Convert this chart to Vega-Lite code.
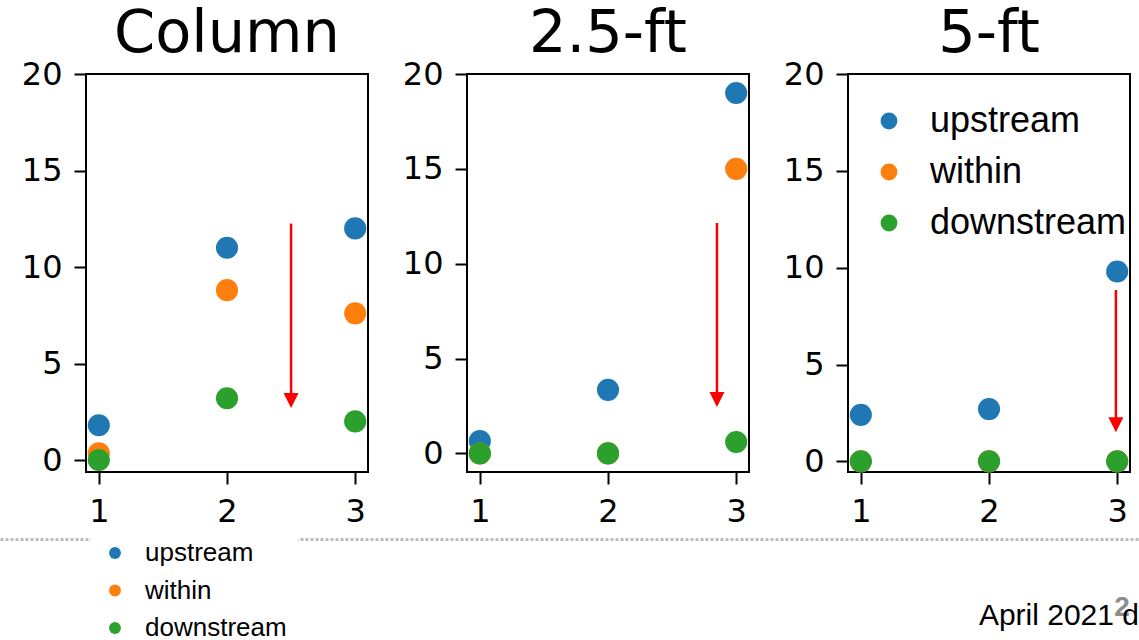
{
  "$schema": "https://vega.github.io/schema/vega-lite/v6.json",
  "autosize": {"type": "none"},
  "padding": {"left": 86, "top": 74, "right": 1053, "bottom": 566},
  "background": "white",
  "datasets": {
    "points": [
      {"panel": "Column", "series": "upstream", "x": 1, "y": 1.8},
      {"panel": "Column", "series": "upstream", "x": 2, "y": 11.0},
      {"panel": "Column", "series": "upstream", "x": 3, "y": 12.0},
      {"panel": "Column", "series": "within", "x": 1, "y": 0.35},
      {"panel": "Column", "series": "within", "x": 2, "y": 8.8},
      {"panel": "Column", "series": "within", "x": 3, "y": 7.6},
      {"panel": "Column", "series": "downstream", "x": 1, "y": 0.0},
      {"panel": "Column", "series": "downstream", "x": 2, "y": 3.2},
      {"panel": "Column", "series": "downstream", "x": 3, "y": 2.0},
      {"panel": "2.5-ft", "series": "upstream", "x": 1, "y": 0.65},
      {"panel": "2.5-ft", "series": "upstream", "x": 2, "y": 3.35},
      {"panel": "2.5-ft", "series": "upstream", "x": 3, "y": 19.0},
      {"panel": "2.5-ft", "series": "within", "x": 1, "y": 0.0},
      {"panel": "2.5-ft", "series": "within", "x": 2, "y": 0.0},
      {"panel": "2.5-ft", "series": "within", "x": 3, "y": 15.0},
      {"panel": "2.5-ft", "series": "downstream", "x": 1, "y": 0.0},
      {"panel": "2.5-ft", "series": "downstream", "x": 2, "y": 0.0},
      {"panel": "2.5-ft", "series": "downstream", "x": 3, "y": 0.6},
      {"panel": "5-ft", "series": "upstream", "x": 1, "y": 2.4},
      {"panel": "5-ft", "series": "upstream", "x": 2, "y": 2.7},
      {"panel": "5-ft", "series": "upstream", "x": 3, "y": 9.8},
      {"panel": "5-ft", "series": "within", "x": 1, "y": 0.0},
      {"panel": "5-ft", "series": "within", "x": 2, "y": 0.0},
      {"panel": "5-ft", "series": "within", "x": 3, "y": 0.0},
      {"panel": "5-ft", "series": "downstream", "x": 1, "y": 0.0},
      {"panel": "5-ft", "series": "downstream", "x": 2, "y": 0.0},
      {"panel": "5-ft", "series": "downstream", "x": 3, "y": 0.0}
    ],
    "arrows": [
      {"panel": "Column", "x": 2.5, "from": 12.25, "to": 2.7},
      {"panel": "2.5-ft", "x": 2.85, "from": 12.15, "to": 2.45},
      {"panel": "5-ft", "x": 2.99, "from": 8.85, "to": 1.5}
    ],
    "series": [
      {"series": "upstream"},
      {"series": "within"},
      {"series": "downstream"}
    ],
    "footer": [
      {"note": "April 2021 d", "slide": "2"}
    ]
  },
  "config": {
    "font": "DejaVu Sans",
    "view": {"stroke": "black", "strokeWidth": 2},
    "axis": {
      "domain": false,
      "grid": false,
      "ticks": true,
      "tickSize": 12,
      "tickWidth": 2,
      "tickColor": "black",
      "labelFont": "DejaVu Sans",
      "labelFontSize": 32,
      "labelColor": "black",
      "labelPadding": 12
    },
    "title": {
      "font": "DejaVu Sans",
      "fontSize": 59,
      "fontWeight": "normal",
      "color": "black",
      "frame": "group",
      "anchor": "middle",
      "baseline": "alphabetic",
      "offset": -6
    },
    "legend": {"labelLimit": 400}
  },
  "spacing": 465,
  "bounds": "flush",
  "resolve": {"scale": {"color": "independent"}, "legend": {"color": "independent"}},
  "vconcat": [
    {
      "spacing": 99,
      "bounds": "flush",
      "resolve": {
        "scale": {"color": "independent", "x": "independent", "y": "independent"},
        "legend": {"color": "independent"}
      },
      "hconcat": [
        {
          "title": {"text": "Column"},
          "width": 282,
          "height": 398,
          "layer": [
            {
              "data": {"name": "points"},
              "transform": [{"filter": "datum.panel === 'Column'"}],
              "mark": {"type": "circle", "size": 490, "opacity": 1},
              "encoding": {
                "x": {"field": "x", "type": "quantitative", "scale": {"domain": [0.9, 3.1], "nice": false, "zero": false}, "axis": {"values": [1, 2, 3], "format": "d"}, "title": null},
                "y": {"field": "y", "type": "quantitative", "scale": {"domain": [-0.62, 20], "nice": false, "zero": false}, "axis": {"values": [0, 5, 10, 15, 20], "format": "d"}, "title": null},
                "color": {"field": "series", "type": "nominal", "scale": {"domain": ["upstream", "within", "downstream"], "range": ["#1f77b4", "#ff7f0e", "#2ca02c"]}, "legend": null}
              }
            },
            {
              "data": {"name": "arrows"},
              "transform": [{"filter": "datum.panel === 'Column'"}],
              "mark": {"type": "rule", "color": "#ff0000", "strokeWidth": 2.5, "y2Offset": -12},
              "encoding": {
                "x": {"field": "x", "type": "quantitative"},
                "y": {"field": "from", "type": "quantitative"},
                "y2": {"field": "to"}
              }
            },
            {
              "data": {"name": "arrows"},
              "transform": [{"filter": "datum.panel === 'Column'"}],
              "mark": {"type": "point", "shape": "M-1,-1L1,-1L0,1Z", "filled": true, "color": "#ff0000", "opacity": 1, "size": 225, "yOffset": -7.5},
              "encoding": {
                "x": {"field": "x", "type": "quantitative"},
                "y": {"field": "to", "type": "quantitative"}
              }
            }
          ]
        },
        {
          "title": {"text": "2.5-ft"},
          "width": 282,
          "height": 398,
          "layer": [
            {
              "data": {"name": "points"},
              "transform": [{"filter": "datum.panel === '2.5-ft'"}],
              "mark": {"type": "circle", "size": 490, "opacity": 1},
              "encoding": {
                "x": {"field": "x", "type": "quantitative", "scale": {"domain": [0.9, 3.1], "nice": false, "zero": false}, "axis": {"values": [1, 2, 3], "format": "d"}, "title": null},
                "y": {"field": "y", "type": "quantitative", "scale": {"domain": [-0.98, 20], "nice": false, "zero": false}, "axis": {"values": [0, 5, 10, 15, 20], "format": "d"}, "title": null},
                "color": {"field": "series", "type": "nominal", "scale": {"domain": ["upstream", "within", "downstream"], "range": ["#1f77b4", "#ff7f0e", "#2ca02c"]}, "legend": null}
              }
            },
            {
              "data": {"name": "arrows"},
              "transform": [{"filter": "datum.panel === '2.5-ft'"}],
              "mark": {"type": "rule", "color": "#ff0000", "strokeWidth": 2.5, "y2Offset": -12},
              "encoding": {
                "x": {"field": "x", "type": "quantitative"},
                "y": {"field": "from", "type": "quantitative"},
                "y2": {"field": "to"}
              }
            },
            {
              "data": {"name": "arrows"},
              "transform": [{"filter": "datum.panel === '2.5-ft'"}],
              "mark": {"type": "point", "shape": "M-1,-1L1,-1L0,1Z", "filled": true, "color": "#ff0000", "opacity": 1, "size": 225, "yOffset": -7.5},
              "encoding": {
                "x": {"field": "x", "type": "quantitative"},
                "y": {"field": "to", "type": "quantitative"}
              }
            }
          ]
        },
        {
          "title": {"text": "5-ft"},
          "width": 282,
          "height": 398,
          "layer": [
            {
              "data": {"name": "points"},
              "transform": [{"filter": "datum.panel === '5-ft'"}],
              "mark": {"type": "circle", "size": 490, "opacity": 1},
              "encoding": {
                "x": {"field": "x", "type": "quantitative", "scale": {"domain": [0.9, 3.1], "nice": false, "zero": false}, "axis": {"values": [1, 2, 3], "format": "d"}, "title": null},
                "y": {"field": "y", "type": "quantitative", "scale": {"domain": [-0.55, 20], "nice": false, "zero": false}, "axis": {"values": [0, 5, 10, 15, 20], "format": "d"}, "title": null},
                "color": {
                  "field": "series",
                  "type": "nominal",
                  "scale": {"domain": ["upstream", "within", "downstream"], "range": ["#1f77b4", "#ff7f0e", "#2ca02c"]},
                  "legend": {
                    "orient": "none",
                    "legendX": 23,
                    "legendY": 29,
                    "title": null,
                    "padding": 0,
                    "labelFont": "Liberation Sans",
                    "labelFontSize": 36,
                    "labelColor": "black",
                    "labelOffset": 23,
                    "symbolType": "circle",
                    "symbolSize": 283,
                    "symbolOpacity": 1,
                    "symbolStrokeWidth": 0,
                    "rowPadding": 15
                  }
                }
              }
            },
            {
              "data": {"name": "arrows"},
              "transform": [{"filter": "datum.panel === '5-ft'"}],
              "mark": {"type": "rule", "color": "#ff0000", "strokeWidth": 2.5, "y2Offset": -12},
              "encoding": {
                "x": {"field": "x", "type": "quantitative"},
                "y": {"field": "from", "type": "quantitative"},
                "y2": {"field": "to"}
              }
            },
            {
              "data": {"name": "arrows"},
              "transform": [{"filter": "datum.panel === '5-ft'"}],
              "mark": {"type": "point", "shape": "M-1,-1L1,-1L0,1Z", "filled": true, "color": "#ff0000", "opacity": 1, "size": 225, "yOffset": -7.5},
              "encoding": {
                "x": {"field": "x", "type": "quantitative"},
                "y": {"field": "to", "type": "quantitative"}
              }
            }
          ]
        }
      ]
    },
    {
      "width": 1053,
      "height": 101,
      "view": {"stroke": null},
      "layer": [
        {
          "data": {"name": "series"},
          "mark": {"type": "circle", "opacity": 0},
          "encoding": {
            "color": {
              "field": "series",
              "type": "nominal",
              "scale": {"domain": ["upstream", "within", "downstream"], "range": ["#1f77b4", "#ff7f0e", "#2ca02c"]},
              "legend": {
                "orient": "none",
                "legendX": 5,
                "legendY": -10,
                "title": null,
                "padding": 11,
                "fillColor": "white",
                "labelFont": "Liberation Sans",
                "labelFontSize": 26,
                "labelColor": "black",
                "labelOffset": 17,
                "symbolType": "circle",
                "symbolSize": 140,
                "symbolOpacity": 1,
                "symbolStrokeWidth": 0,
                "rowPadding": 11.5
              }
            }
          }
        },
        {
          "data": {"name": "footer"},
          "mark": {"type": "text", "align": "center", "baseline": "middle", "font": "Liberation Sans", "fontWeight": "bold", "fontSize": 28, "color": "#8c8c8c", "dx": -17, "dy": -32},
          "encoding": {
            "x": {
              "datum": 1,
              "type": "quantitative",
              "scale": {"domain": [0, 1], "range": [-86, 1053], "nice": false, "zero": false},
              "axis": {
                "orient": "top",
                "domain": true,
                "domainColor": "#bdbdbd",
                "domainWidth": 3,
                "domainDash": [3, 2],
                "ticks": false,
                "labels": false,
                "grid": false,
                "title": null
              }
            },
            "y": {"value": "height"},
            "text": {"field": "slide"}
          }
        },
        {
          "data": {"name": "footer"},
          "mark": {"type": "text", "align": "right", "baseline": "alphabetic", "font": "Liberation Sans", "fontSize": 30, "color": "black", "dy": -15},
          "encoding": {
            "x": {"datum": 1, "type": "quantitative"},
            "y": {"value": "height"},
            "text": {"field": "note"}
          }
        }
      ]
    }
  ]
}
